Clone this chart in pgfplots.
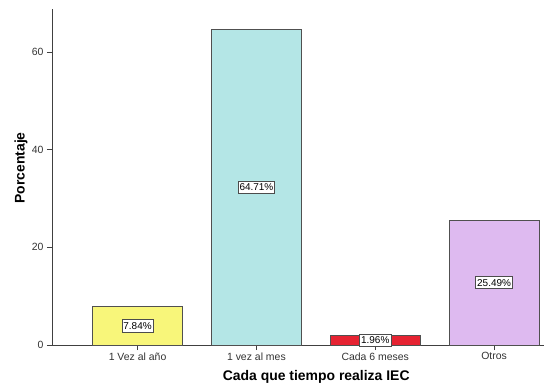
\documentclass[border=0pt]{standalone}
\usepackage{fontspec}
\setmainfont{Liberation Sans}
\usepackage{pgfplots}
\pgfplotsset{compat=1.18}
\definecolor{cyel}{RGB}{248,246,122}
\definecolor{ccya}{RGB}{180,230,230}
\definecolor{cred}{RGB}{230,35,50}
\definecolor{cpur}{RGB}{222,186,240}
\definecolor{cedge}{RGB}{80,80,80}
\begin{document}
\begin{tikzpicture}
\useasboundingbox (-52bp,-43bp) rectangle (493bp,345bp);
\begin{axis}[
  at={(0,0)}, anchor=south west,
  scale only axis, width=492bp, height=336bp,
  xmin=-0.72, xmax=3.42, ymin=0, ymax=68.8,
  axis lines=left, axis line style={-, black!75, line width=0.8pt},
  xtick={0,1,2,3},
  xticklabels={1 Vez al año, 1 vez al mes, Cada 6 meses, Otros},
  ytick={0,20,40,60},
  tick style={black!75, line width=0.8pt},
  tick align=outside, major tick length=5bp,
  ticklabel style={font=\fontsize{10.5}{12}\selectfont, text=black!80},
  xticklabel style={yshift=1bp},
  /pgf/number format/assume math mode=true,
  xlabel={\bfseries Cada que tiempo realiza IEC},
  ylabel={\bfseries Porcentaje},
  label style={font=\fontsize{14}{16}\selectfont},
  xlabel style={at={(axis description cs:0.537,0)}, anchor=north, yshift=-22bp},
  ylabel style={at={(axis description cs:0,0.527)}, anchor=south, yshift=21bp},
  ybar, bar width=0.757, bar shift=0pt,
  clip=false,
]
\addplot[fill=cyel, draw=cedge, line width=0.8pt] coordinates {(0,7.84)};
\addplot[fill=ccya, draw=cedge, line width=0.8pt] coordinates {(1,64.71)};
\addplot[fill=cred, draw=cedge, line width=0.8pt] coordinates {(2,1.96)};
\addplot[fill=cpur, draw=cedge, line width=0.8pt] coordinates {(3,25.49)};
\addplot[only marks, mark=none, point meta=explicit symbolic,
  nodes near coords,
  every node near coord/.append style={anchor=center, fill=white, draw=black!70, line width=0.7pt,
     inner xsep=1.5pt, inner ysep=2.5pt, font=\fontsize{10}{11}\selectfont}]
  coordinates {(0,3.92)[7.84\%] (1,32.355)[64.71\%] (2,0.98)[1.96\%] (3,12.745)[25.49\%]};
\end{axis}
\end{tikzpicture}
\end{document}
